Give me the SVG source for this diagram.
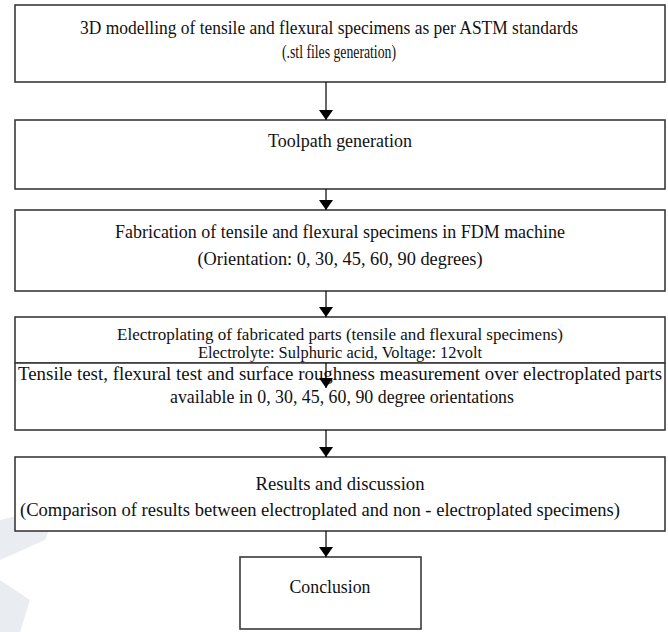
<svg xmlns="http://www.w3.org/2000/svg" width="668" height="632" viewBox="0 0 668 632">
<style>
.box{fill:#fff;stroke:#3a3a3a;stroke-width:1.6}
text{font-family:'Liberation Serif','DejaVu Serif','Times New Roman',serif;font-size:19px;fill:#111;text-anchor:middle}
text.s{font-size:16px}
.c{stroke:#000;stroke-width:1.2;fill:none}
.wm{fill:#e9edf2}
</style>
<defs>
<marker id="ah" viewBox="0 0 10 14" refX="10" refY="7" markerWidth="10" markerHeight="14" markerUnits="userSpaceOnUse" orient="auto">
<path d="M0,0 L10,7 L0,14 Z" fill="#000"/>
</marker>
</defs>
<g id="watermark">
<polygon class="wm" points="0,520 60,505 45,540 0,560"/>
<polygon class="wm" points="0,580 30,600 20,632 0,632"/>
</g>
<g id="n1">
<rect class="box" x="15" y="5" width="650" height="77"/>
<text x="329" y="34" textLength="498" lengthAdjust="spacingAndGlyphs">3D modelling of tensile and flexural specimens as per ASTM standards</text>
<text x="339" y="58" textLength="114" lengthAdjust="spacingAndGlyphs">(.stl files generation)</text>
</g>
<g id="n2">
<rect class="box" x="15" y="120" width="650" height="69"/>
<text x="340" y="147" textLength="144" lengthAdjust="spacingAndGlyphs">Toolpath generation</text>
</g>
<g id="n3">
<rect class="box" x="15" y="210" width="650" height="81"/>
<text x="340" y="238" textLength="450" lengthAdjust="spacingAndGlyphs">Fabrication of tensile and flexural specimens in FDM machine</text>
<text x="340" y="265" textLength="285" lengthAdjust="spacingAndGlyphs">(Orientation: 0, 30, 45, 60, 90 degrees)</text>
</g>
<g id="n4">
<rect class="box" x="15" y="317" width="650" height="46"/>
<text class="s" x="340" y="340" textLength="446" lengthAdjust="spacingAndGlyphs">Electroplating of fabricated parts (tensile and flexural specimens)</text>
<text class="s" x="340" y="358" textLength="284" lengthAdjust="spacingAndGlyphs">Electrolyte: Sulphuric acid, Voltage: 12volt</text>
</g>
<g id="n5">
<rect class="box" x="15" y="363" width="650" height="67"/>
<text x="340" y="380" textLength="644" lengthAdjust="spacingAndGlyphs">Tensile test, flexural test and surface roughness measurement over electroplated parts</text>
<text x="342" y="403" textLength="344" lengthAdjust="spacingAndGlyphs">available in 0, 30, 45, 60, 90 degree orientations</text>
</g>
<g id="n6">
<rect class="box" x="15" y="457" width="650" height="74"/>
<text x="340" y="490" textLength="169" lengthAdjust="spacingAndGlyphs">Results and discussion</text>
<text x="320" y="516" textLength="600" lengthAdjust="spacingAndGlyphs">(Comparison of results between electroplated and non - electroplated specimens)</text>
</g>
<g id="n7">
<rect class="box" x="240" y="557" width="181" height="72"/>
<text x="330" y="593" textLength="81" lengthAdjust="spacingAndGlyphs">Conclusion</text>
</g>
<g id="connectors">
<line class="c" x1="326" y1="82" x2="326" y2="120" marker-end="url(#ah)"/>
<line class="c" x1="326" y1="189" x2="326" y2="210" marker-end="url(#ah)"/>
<line class="c" x1="326" y1="291" x2="326" y2="317" marker-end="url(#ah)"/>
<line class="c" x1="326" y1="363" x2="326" y2="388" marker-end="url(#ah)"/>
<line class="c" x1="326" y1="430" x2="326" y2="457" marker-end="url(#ah)"/>
<line class="c" x1="326" y1="531" x2="326" y2="557" marker-end="url(#ah)"/>
</g>
</svg>
